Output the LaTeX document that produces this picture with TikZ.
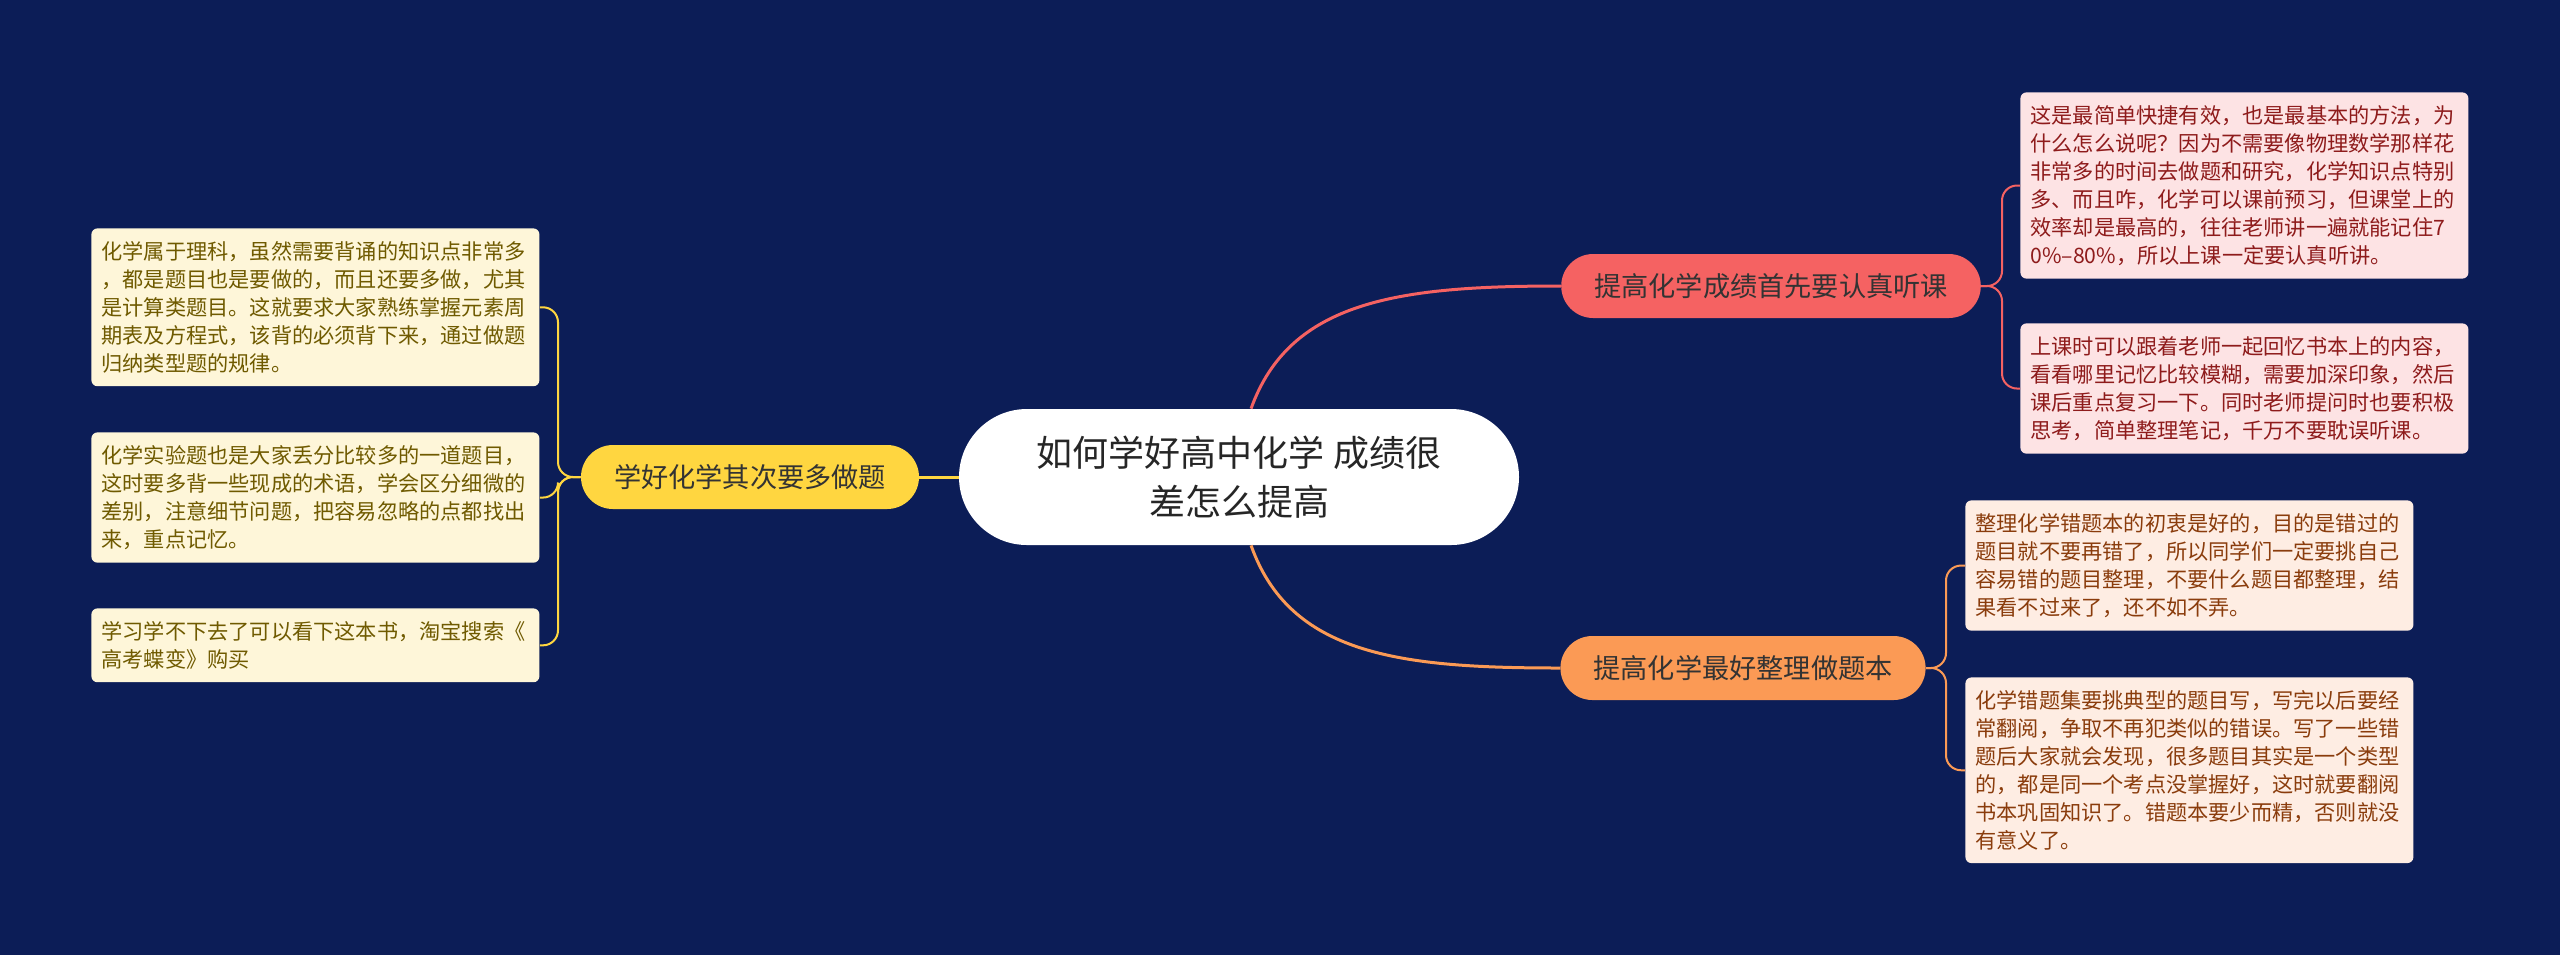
\documentclass[tikz,border=0pt]{standalone}
\usepackage{fontspec}
\setmainfont{Noto Sans CJK SC}

\definecolor{bgnavy}{HTML}{0C1D57}
\definecolor{branchred}{HTML}{F56262}
\definecolor{branchorange}{HTML}{FB9A55}
\definecolor{branchyellow}{HTML}{FFD640}
\definecolor{leafred}{HTML}{FDE3E4}
\definecolor{leaforange}{HTML}{FEEDE3}
\definecolor{leafyellow}{HTML}{FEF6D9}
\definecolor{txtred}{HTML}{8E1B1B}
\definecolor{txtorange}{HTML}{8A3C0C}
\definecolor{txtyellow}{HTML}{6F5A00}

\tikzset{
  rootnode/.style={fill=white, rounded corners=34pt, minimum width=280pt,
    minimum height=68pt, align=center, text=black!85,
    font=\fontsize{18pt}{24.5pt}\selectfont},
  branch/.style={rounded corners=16pt, minimum height=32pt, inner xsep=16.5pt,
    text=black!80, font=\fontsize{13.6pt}{16pt}\selectfont},
  leaf/.style={rounded corners=3pt, text width=214pt, inner xsep=5pt,
    inner ysep=6.5pt, align=left, anchor=north west,
    font=\fontsize{10.6pt}{14pt}\selectfont},
  leafR/.style={leaf, fill=leafred, text=txtred},
  leafO/.style={leaf, fill=leaforange, text=txtorange},
  leafY/.style={leaf, fill=leafyellow, text=txtyellow},
  link/.style={line width=1.5pt},
  bracket/.style={line width=1pt, rounded corners=7.5pt},
}

\begin{document}
\begin{tikzpicture}[x=0.5pt, y=-0.5pt]
  % 背景
  \fill[bgnavy] (0,0) rectangle (2560,955);

  % 中心主题与三个分支
  \node[rootnode] (root) at (1239,477) {如何学好高中化学 成绩很\\差怎么提高};
  \node[branch, fill=branchred]    (red)    at (1771,286) {提高化学成绩首先要认真听课};
  \node[branch, fill=branchorange] (orange) at (1743,668) {提高化学最好整理做题本};
  \node[branch, fill=branchyellow] (yellow) at (750,477)  {学好化学其次要多做题};

  % 右上：听课
  \node[leafR] (r1) at (2020,92) {这是最简单快捷有效，也是最基本的方法，为\\
什么怎么说呢？因为不需要像物理数学那样花\\
非常多的时间去做题和研究，化学知识点特别\\
多、而且咋，化学可以课前预习，但课堂上的\\
效率却是最高的，往往老师讲一遍就能记住7\\
0\%–80\%，所以上课一定要认真听讲。};
  \node[leafR] (r2) at (2020,323) {上课时可以跟着老师一起回忆书本上的内容，\\
看看哪里记忆比较模糊，需要加深印象，然后\\
课后重点复习一下。同时老师提问时也要积极\\
思考，简单整理笔记，千万不要耽误听课。};

  % 右下：错题本
  \node[leafO] (o1) at (1965,500) {整理化学错题本的初衷是好的，目的是错过的\\
题目就不要再错了，所以同学们一定要挑自己\\
容易错的题目整理，不要什么题目都整理，结\\
果看不过来了，还不如不弄。};
  \node[leafO] (o2) at (1965,677) {化学错题集要挑典型的题目写，写完以后要经\\
常翻阅，争取不再犯类似的错误。写了一些错\\
题后大家就会发现，很多题目其实是一个类型\\
的，都是同一个考点没掌握好，这时就要翻阅\\
书本巩固知识了。错题本要少而精，否则就没\\
有意义了。};

  % 左侧：做题
  \node[leafY] (l1) at (91,228) {化学属于理科，虽然需要背诵的知识点非常多\\
，都是题目也是要做的，而且还要多做，尤其\\
是计算类题目。这就要求大家熟练掌握元素周\\
期表及方程式，该背的必须背下来，通过做题\\
归纳类型题的规律。};
  \node[leafY] (l2) at (91,432) {化学实验题也是大家丢分比较多的一道题目，\\
这时要多背一些现成的术语，学会区分细微的\\
差别，注意细节问题，把容易忽略的点都找出\\
来，重点记忆。};
  \node[leafY] (l3) at (91,608) {学习学不下去了可以看下这本书，淘宝搜索《\\
高考蝶变》购买};

  % 主干连线
  \draw[link, branchred] (root.80) .. controls (1290,300) and (1400,286) .. (red.west);
  \draw[link, branchorange] (root.-80) .. controls (1290,655) and (1400,668) .. (orange.west);
  \draw[link, branchyellow] (root.west) -- (yellow.east);

  % 分支到叶子的括线
  \coordinate (rj) at (2002,286);
  \coordinate (oj) at (1946,668);
  \coordinate (yj) at (558,477);
  \foreach \leaf in {r1,r2}
    \draw[bracket, branchred] (red.east) -- (rj) |- (\leaf.west);
  \foreach \leaf in {o1,o2}
    \draw[bracket, branchorange] (orange.east) -- (oj) |- (\leaf.west);
  \foreach \leaf in {l1,l2,l3}
    \draw[bracket, branchyellow] (yellow.west) -- (yj) |- (\leaf.east);
\end{tikzpicture}
\end{document}
